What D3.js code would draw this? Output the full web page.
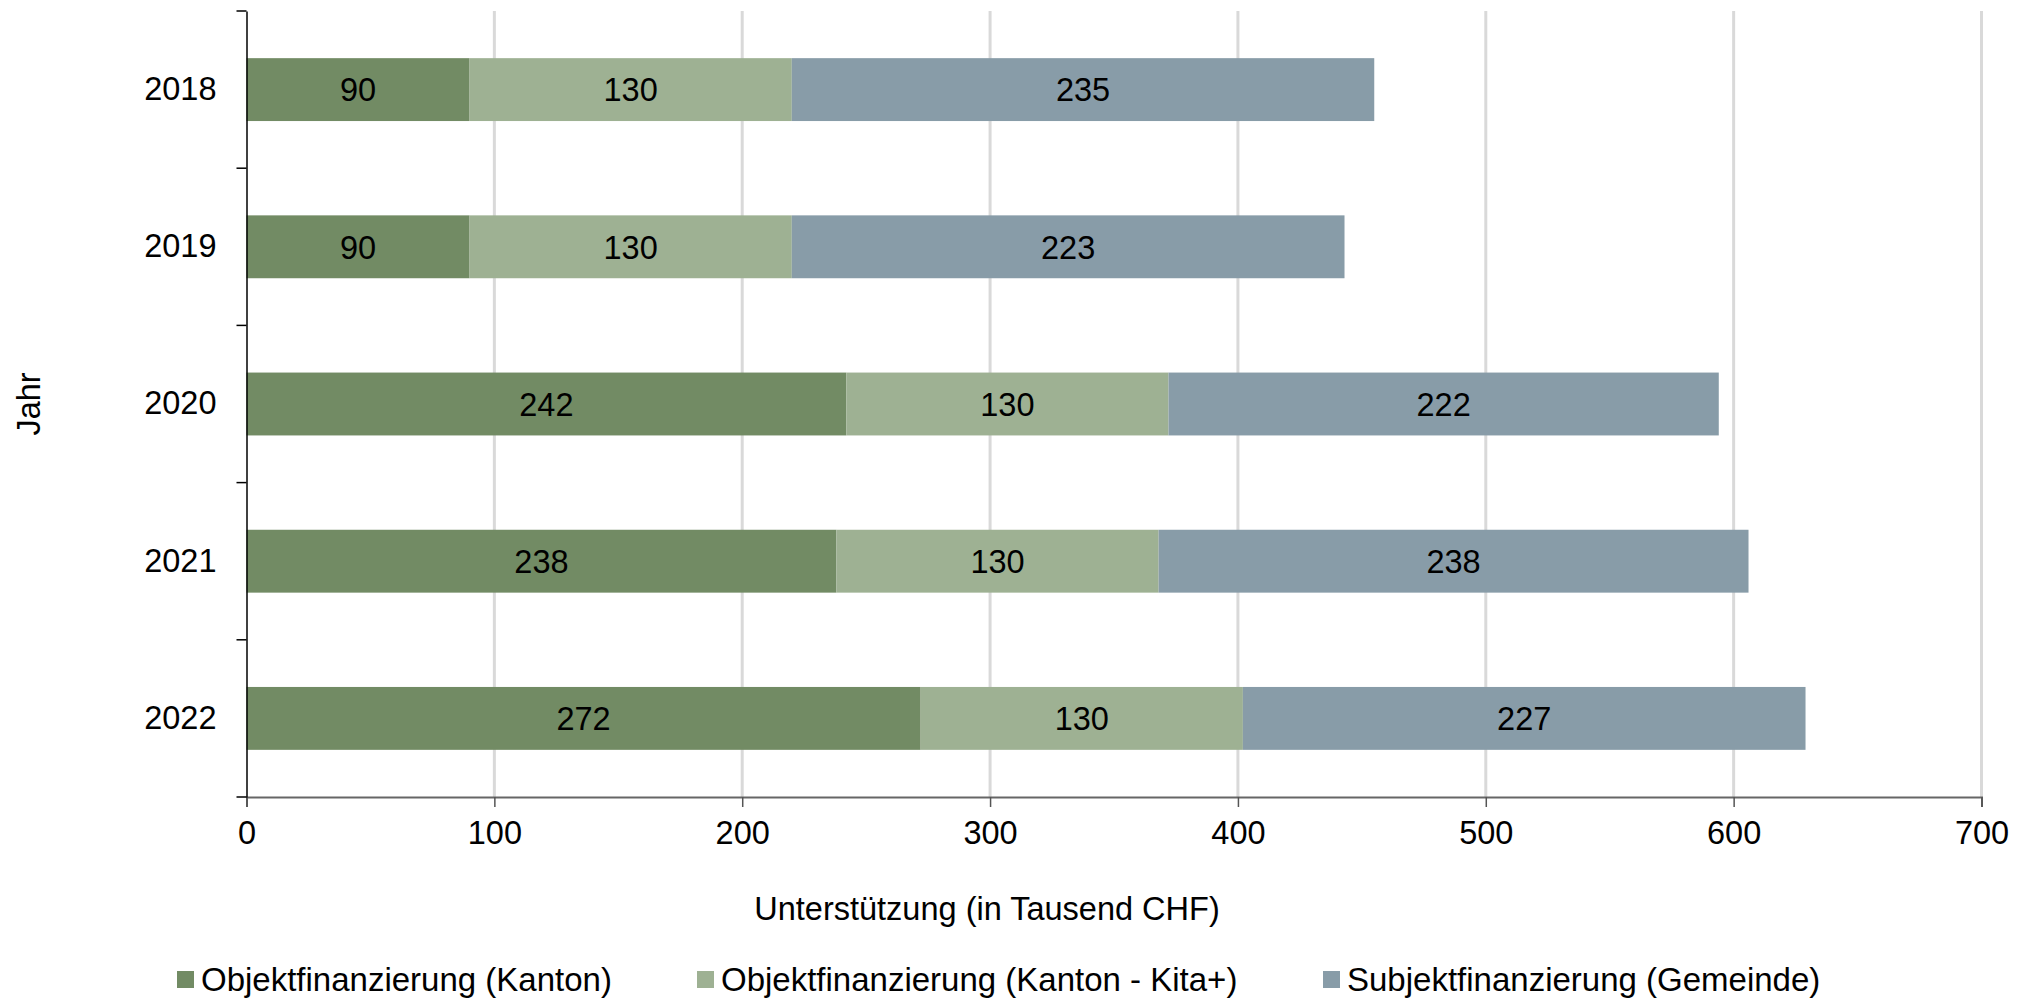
<!DOCTYPE html>
<html>
<head>
<meta charset="utf-8">
<script src="https://cdn.jsdelivr.net/npm/d3@7/dist/d3.min.js"></script>
<style>
  html, body { margin: 0; padding: 0; background: #ffffff; }
  svg { display: block; font-family: "Liberation Sans", Arial, sans-serif; }
</style>
</head>
<body>
<svg id="chart" width="2037" height="999"></svg>
<script>
// Jahre (Kategorien)
const years = ["2018", "2019", "2020", "2021", "2022"];

// Unterstützung in Tausend CHF je Finanzierungsart
const kanton     = [90, 90, 242, 238, 272];
const kantonKita = [130, 130, 130, 130, 130];
const gemeinde   = [235, 223, 222, 238, 227];

const seriesNames = [
  "Objektfinanzierung (Kanton)",
  "Objektfinanzierung (Kanton - Kita+)",
  "Subjektfinanzierung (Gemeinde)"
];
const seriesColors = ["#728b64", "#9eb193", "#889ca8"];

const xTicks = [0, 100, 200, 300, 400, 500, 600, 700];

const xTitle = "Unterstützung (in Tausend CHF)";
const yTitle = "Jahr";

// Tabelle für den Stapel aufbauen
const keys = ["kanton", "kantonKita", "gemeinde"];
const rows = years.map((y, i) => ({
  year: y, kanton: kanton[i], kantonKita: kantonKita[i], gemeinde: gemeinde[i]
}));
const stacked = d3.stack().keys(keys)(rows);

const svg = d3.select("#chart");
const plot = { left: 246.5, top: 11, width: 1735, height: 786 };
const fontSize = 32.5;

const x = d3.scaleLinear().domain([0, 700]).range([plot.left, plot.left + plot.width]);
const y = d3.scaleBand().domain(years)
  .range([plot.top, plot.top + plot.height])
  .paddingInner(0.6).paddingOuter(0.3);

// Gitterlinien
svg.append("g")
  .selectAll("line")
  .data(xTicks.filter(t => t > 0))
  .join("line")
  .attr("x1", d => x(d)).attr("x2", d => x(d))
  .attr("y1", plot.top).attr("y2", plot.top + plot.height)
  .attr("stroke", "#d9d9d9").attr("stroke-width", 3);

// Balken
const layer = svg.append("g")
  .selectAll("g")
  .data(stacked)
  .join("g")
  .attr("fill", (d, i) => seriesColors[i]);

layer.selectAll("rect")
  .data(d => d)
  .join("rect")
  .attr("x", d => x(d[0]))
  .attr("width", d => x(d[1]) - x(d[0]))
  .attr("y", d => y(d.data.year))
  .attr("height", y.bandwidth());

// Wertbeschriftungen
const labels = svg.append("g")
  .attr("font-size", fontSize)
  .attr("fill", "#000")
  .attr("text-anchor", "middle");
stacked.forEach(s => {
  labels.selectAll(null)
    .data(s)
    .join("text")
    .attr("x", d => (x(d[0]) + x(d[1])) / 2)
    .attr("y", d => y(d.data.year) + y.bandwidth() / 2)
    .attr("dy", "0.36em")
    .text(d => d[1] - d[0]);
});

// X-Achse
const xAxis = svg.append("g")
  .attr("transform", `translate(0,${plot.top + plot.height})`)
  .call(d3.axisBottom(x).tickValues(xTicks).tickSize(10).tickPadding(14).tickFormat(d3.format("d")));
xAxis.select(".domain").attr("stroke", "#666666").attr("stroke-width", 2);
xAxis.selectAll(".tick line").attr("stroke", "#555555").attr("stroke-width", 1.5);
xAxis.selectAll(".tick text")
  .attr("font-size", fontSize).attr("fill", "#000")
  .attr("font-family", "Liberation Sans, Arial, sans-serif");

// Y-Achse: Beschriftungen mittig, Teilstriche zwischen den Kategorien
const yAxis = svg.append("g")
  .attr("transform", `translate(${plot.left},0)`)
  .call(d3.axisLeft(y).tickSize(0).tickPadding(30));
yAxis.select(".domain").attr("stroke", "#000").attr("stroke-width", 1.5);
yAxis.selectAll(".tick text")
  .attr("font-size", fontSize).attr("fill", "#000")
  .attr("font-family", "Liberation Sans, Arial, sans-serif");

const step = y.step();
const boundaries = years.map(d => y(d) - step * y.paddingInner() / 2)
  .concat([y(years[years.length - 1]) + y.bandwidth() + step * y.paddingInner() / 2]);
svg.append("g")
  .selectAll("line")
  .data(boundaries)
  .join("line")
  .attr("x1", plot.left - 10).attr("x2", plot.left)
  .attr("y1", d => d).attr("y2", d => d)
  .attr("stroke", "#000").attr("stroke-width", 1.5);

// Achsentitel
svg.append("text")
  .attr("x", 987).attr("y", 920)
  .attr("text-anchor", "middle")
  .attr("font-size", fontSize)
  .attr("fill", "#000")
  .text(xTitle);

svg.append("text")
  .attr("transform", `translate(40,${plot.top + plot.height / 2}) rotate(-90)`)
  .attr("text-anchor", "middle")
  .attr("font-size", fontSize)
  .attr("fill", "#000")
  .text(yTitle);

// Legende
const legendX = [177, 697, 1323];
const legend = svg.append("g");
seriesNames.forEach((name, i) => {
  const g = legend.append("g").attr("transform", `translate(${legendX[i]},971)`);
  g.append("rect").attr("width", 17).attr("height", 17).attr("fill", seriesColors[i]);
  g.append("text")
    .attr("x", 24).attr("y", 8.5).attr("dy", "0.36em")
    .attr("font-size", 33).attr("fill", "#000")
    .text(name);
});
</script>
</body>
</html>
